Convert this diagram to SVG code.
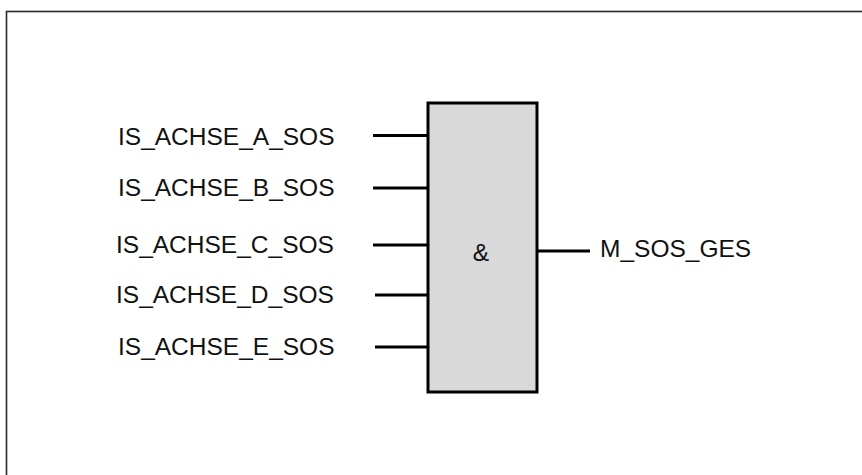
<svg xmlns="http://www.w3.org/2000/svg" width="862" height="475" viewBox="0 0 862 475">
  <style>
    .lbl { font-family: "Liberation Sans", Arial, sans-serif; font-size: 24.5px; fill: #111; }
    .wire { stroke: #000; stroke-width: 3; fill: none; }
    .gate { fill: #d9d9da; stroke: #000; stroke-width: 3; }
  </style>
  <rect x="0" y="0" width="862" height="475" fill="#fff"/>
  <rect x="6.5" y="11.5" width="900" height="500" fill="none" stroke="#2a2a2a" stroke-width="1.6"/>
  <g id="connectors">
    <line class="wire" x1="373" y1="135.5" x2="428" y2="135.5"/>
    <line class="wire" x1="373" y1="188" x2="428" y2="188"/>
    <line class="wire" x1="373" y1="245" x2="428" y2="245"/>
    <line class="wire" x1="375" y1="295" x2="428" y2="295"/>
    <line class="wire" x1="375" y1="347" x2="428" y2="347"/>
    <line class="wire" x1="537" y1="251" x2="590" y2="251"/>
  </g>
  <g id="and-gate">
    <rect class="gate" x="428" y="103" width="109" height="289"/>
    <text class="lbl" x="481" y="261" text-anchor="middle">&amp;</text>
  </g>
  <g id="in-a"><text class="lbl" x="118" y="145">IS_ACHSE_A_SOS</text></g>
  <g id="in-b"><text class="lbl" x="118" y="196">IS_ACHSE_B_SOS</text></g>
  <g id="in-c"><text class="lbl" x="116" y="253">IS_ACHSE_C_SOS</text></g>
  <g id="in-d"><text class="lbl" x="116" y="303">IS_ACHSE_D_SOS</text></g>
  <g id="in-e"><text class="lbl" x="118" y="355">IS_ACHSE_E_SOS</text></g>
  <g id="out"><text class="lbl" x="600" y="257">M_SOS_GES</text></g>
</svg>
